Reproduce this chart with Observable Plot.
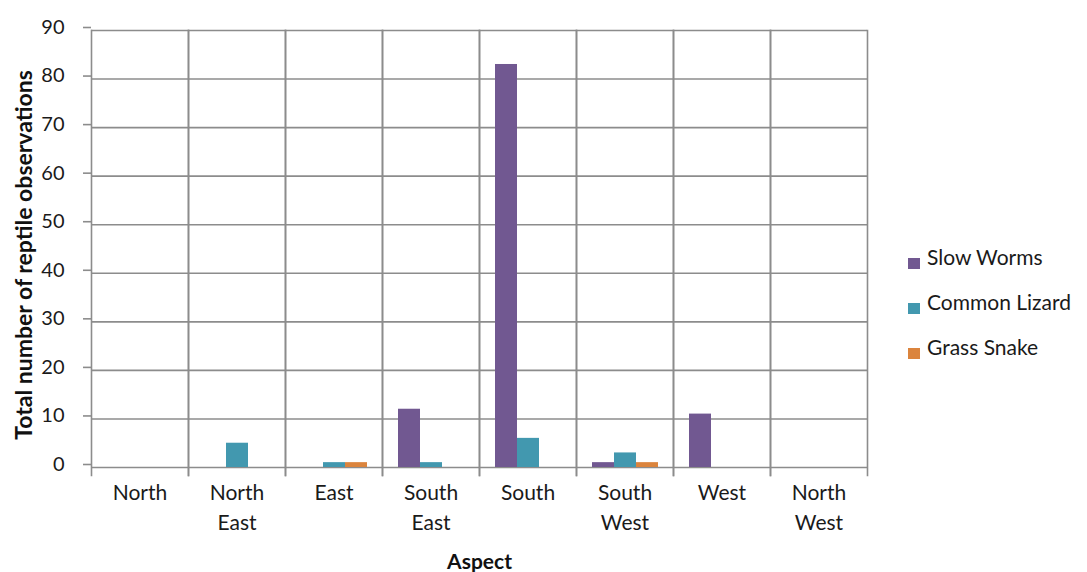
<!DOCTYPE html>
<html>
<head>
<meta charset="utf-8">
<script src="https://cdn.jsdelivr.net/npm/d3@7"></script>
<script src="https://cdn.jsdelivr.net/npm/@observablehq/plot@0.6"></script>
<style>
  html, body { margin: 0; padding: 0; background: #fff; }
  #wrap { position: relative; width: 1087px; height: 572px; font-family: Lato, "Open Sans", sans-serif; }
  .lrow { position: absolute; left: 908px; height: 22px; font-size: 21px; line-height: 22px; color: #1a1a1a; white-space: nowrap; }
  .lrow .sw { position: absolute; left: 0; top: 12px; width: 12px; height: 11px; }
  .lrow .lt { position: absolute; left: 19px; top: 0; }
</style>
</head>
<body>
<div id="wrap"></div>
<script>
const aspects = ["North", "North East", "East", "South East", "South", "South West", "West", "North West"];
const aspectLabels = ["North", "North\nEast", "East", "South\nEast", "South", "South\nWest", "West", "North\nWest"];
const species = ["Slow Worms", "Common Lizard", "Grass Snake"];
const colors = ["#715891", "#4298AF", "#DB843D"];
const slowWorms = [0, 0, 0, 12, 83, 1, 11, 0];
const commonLizard = [0, 5, 1, 1, 6, 3, 0, 0];
const grassSnake = [0, 0, 1, 0, 0, 1, 0, 0];
const yTicks = [0, 10, 20, 30, 40, 50, 60, 70, 80, 90];

const seriesValues = [slowWorms, commonLizard, grassSnake];
const data = [];
aspects.forEach((a, i) => {
  species.forEach((s, j) => {
    data.push({aspect: a, species: s, value: seriesValues[j][i]});
  });
});

const grid = "#8c8c8c";
const chart = Plot.plot({
  width: 1087,
  height: 572,
  marginLeft: 90,
  marginRight: 219,
  marginTop: 30,
  marginBottom: 105,
  style: {fontFamily: "Lato, 'Open Sans', sans-serif", fontSize: "21px", color: "#1a1a1a", background: "#fff"},
  fx: {domain: aspects, padding: 0, label: null},
  x: {domain: species, paddingInner: 0, paddingOuter: 0.7, axis: null},
  y: {domain: [0, 90], label: null},
  color: {domain: species, range: colors},
  marks: [
    Plot.gridY(yTicks, {stroke: grid, strokeOpacity: 1, strokeWidth: 1.6}),
    Plot.frame({anchor: "left", stroke: grid, strokeOpacity: 1, strokeWidth: 1.6, insetBottom: -8}),
    Plot.frame({anchor: "right", stroke: grid, strokeOpacity: 1, strokeWidth: 1.6, insetBottom: -8}),
    Plot.axisY(yTicks, {tickSize: 8, tickPadding: 19, stroke: grid, strokeWidth: 1.6, fill: "#1a1a1a", fontSize: 20, label: null, dy: -3}),
    Plot.axisFx({
      anchor: "bottom",
      tickSize: 0, tickPadding: 12, lineHeight: 1.4, fontSize: 21,
      tickFormat: d => aspectLabels[aspects.indexOf(d)],
      label: null, fill: "#1a1a1a"
    }),
    Plot.barY(data, {fx: "aspect", x: "species", y: "value", fill: "species"}),
    Plot.text(["Aspect"], {frameAnchor: "bottom", dy: 101, text: d => d, fontWeight: "bold", fontSize: 21, fill: "#111", facet: "super"}),
    Plot.text(["Total number of reptile observations"], {frameAnchor: "left", dx: -67, dy: 6, rotate: -90, textAnchor: "middle", text: d => d, fontWeight: "bold", fontSize: 23, fill: "#111", facet: "super"})
  ]
});

const wrap = document.getElementById("wrap");
wrap.appendChild(chart);
const legendCenters = [257.5, 302, 347];
species.forEach((s, i) => {
  const row = document.createElement("div");
  row.className = "lrow";
  row.style.top = (legendCenters[i] - 11.5) + "px";
  const sw = document.createElement("span");
  sw.className = "sw";
  sw.style.background = colors[i];
  const t = document.createElement("span");
  t.className = "lt";
  t.textContent = s;
  row.appendChild(sw);
  row.appendChild(t);
  wrap.appendChild(row);
});
</script>
</body>
</html>
